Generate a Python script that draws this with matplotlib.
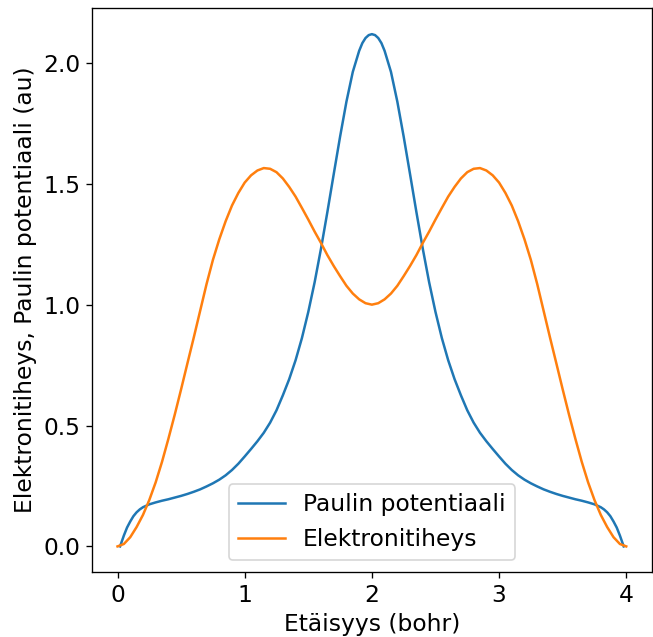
import matplotlib
matplotlib.use("Agg")
import matplotlib.pyplot as plt

# Paulin potentiaali (blue)
x_pauli = [0.02, 0.05, 0.075, 0.10, 0.125, 0.15, 0.175, 0.20, 0.25, 0.30, 0.35, 0.40, 0.45, 0.50, 0.55, 0.60, 0.65,
           0.70, 0.75, 0.80, 0.85, 0.90, 0.95, 1.00, 1.05, 1.10, 1.15, 1.20, 1.25, 1.30, 1.35,
           1.40, 1.45, 1.50, 1.55, 1.60, 1.65, 1.70, 1.75, 1.80, 1.85, 1.90, 1.925, 1.95, 1.975, 2.00,
           2.025, 2.05, 2.075, 2.10, 2.15, 2.20, 2.25, 2.30, 2.35, 2.40, 2.45, 2.50, 2.55, 2.60, 2.65,
           2.70, 2.75, 2.80, 2.85, 2.90, 2.95, 3.00, 3.05, 3.10, 3.15, 3.20, 3.25, 3.30,
           3.35, 3.40, 3.45, 3.50, 3.55, 3.60, 3.65, 3.70, 3.75, 3.80, 3.825, 3.85, 3.875, 3.90, 3.925, 3.95, 3.98]
y_pauli = [0.000, 0.045, 0.078, 0.103, 0.125, 0.141, 0.153, 0.162, 0.174, 0.182, 0.189, 0.195, 0.202, 0.209, 0.217, 0.226, 0.236,
           0.248, 0.261, 0.276, 0.294, 0.316, 0.342, 0.372, 0.403, 0.435, 0.470, 0.512, 0.563, 0.625, 0.692,
           0.770, 0.862, 0.970, 1.093, 1.232, 1.383, 1.540, 1.695, 1.840, 1.963, 2.050, 2.082, 2.103, 2.115, 2.119,
           2.115, 2.103, 2.082, 2.050, 1.963, 1.840, 1.695, 1.540, 1.383, 1.232, 1.093, 0.970, 0.862, 0.770, 0.692,
           0.625, 0.563, 0.512, 0.470, 0.435, 0.403, 0.372, 0.342, 0.316, 0.294, 0.276, 0.261, 0.248,
           0.236, 0.226, 0.217, 0.209, 0.202, 0.195, 0.189, 0.182, 0.174, 0.162, 0.153, 0.141, 0.125, 0.103, 0.078, 0.045, 0.000]

# Elektronitiheys (orange)
x_dens = [0.00, 0.05, 0.10, 0.15, 0.20, 0.25, 0.30, 0.35, 0.40, 0.45, 0.50, 0.55, 0.60, 0.65,
          0.70, 0.75, 0.80, 0.85, 0.90, 0.95, 1.00, 1.05, 1.10, 1.15, 1.20, 1.25, 1.30, 1.35,
          1.40, 1.45, 1.50, 1.55, 1.60, 1.65, 1.70, 1.75, 1.80, 1.85, 1.90, 1.95, 2.00,
          2.05, 2.10, 2.15, 2.20, 2.25, 2.30, 2.35, 2.40, 2.45, 2.50, 2.55, 2.60, 2.65,
          2.70, 2.75, 2.80, 2.85, 2.90, 2.95, 3.00, 3.05, 3.10, 3.15, 3.20, 3.25, 3.30,
          3.35, 3.40, 3.45, 3.50, 3.55, 3.60, 3.65, 3.70, 3.75, 3.80, 3.85, 3.90, 3.95, 4.00]
y_dens = [0.000, 0.010, 0.038, 0.080, 0.130, 0.192, 0.265, 0.350, 0.445, 0.545, 0.650, 0.758, 0.865, 0.975,
          1.085, 1.185, 1.270, 1.345, 1.410, 1.462, 1.505, 1.535, 1.555, 1.565, 1.562, 1.548, 1.522, 1.487,
          1.447, 1.400, 1.352, 1.302, 1.255, 1.205, 1.160, 1.118, 1.078, 1.046, 1.022, 1.006, 1.000,
          1.006, 1.022, 1.046, 1.078, 1.118, 1.160, 1.205, 1.255, 1.302, 1.352, 1.400, 1.447, 1.487,
          1.522, 1.548, 1.562, 1.565, 1.555, 1.535, 1.505, 1.462, 1.410, 1.345, 1.270, 1.185, 1.085,
          0.975, 0.865, 0.758, 0.650, 0.545, 0.445, 0.350, 0.265, 0.192, 0.130, 0.080, 0.038, 0.010, 0.000]

plt.rcParams['font.size'] = 14

fig = plt.figure(figsize=(653 / 120, 637 / 120), dpi=120)
ax = fig.add_axes([0.141, 0.102, 0.857, 0.885])
ax.plot(x_pauli, y_pauli, color='#1f77b4', lw=1.5, label='Paulin potentiaali')
ax.plot(x_dens, y_dens, color='#ff7f0e', lw=1.5, label='Elektronitiheys')
ax.set_xlim(-0.2, 4.2)
ax.set_ylim(-0.106, 2.226)
ax.set_xticks([0, 1, 2, 3, 4])
ax.set_yticks([0.0, 0.5, 1.0, 1.5, 2.0])
ax.set_yticklabels(['0.0', '0.5', '1.0', '1.5', '2.0'])
ax.set_xlabel('Etäisyys (bohr)')
ax.set_ylabel('Elektronitiheys, Paulin potentiaali (au)')
ax.legend(loc='lower center')
fig.savefig('out.png', dpi=120)
